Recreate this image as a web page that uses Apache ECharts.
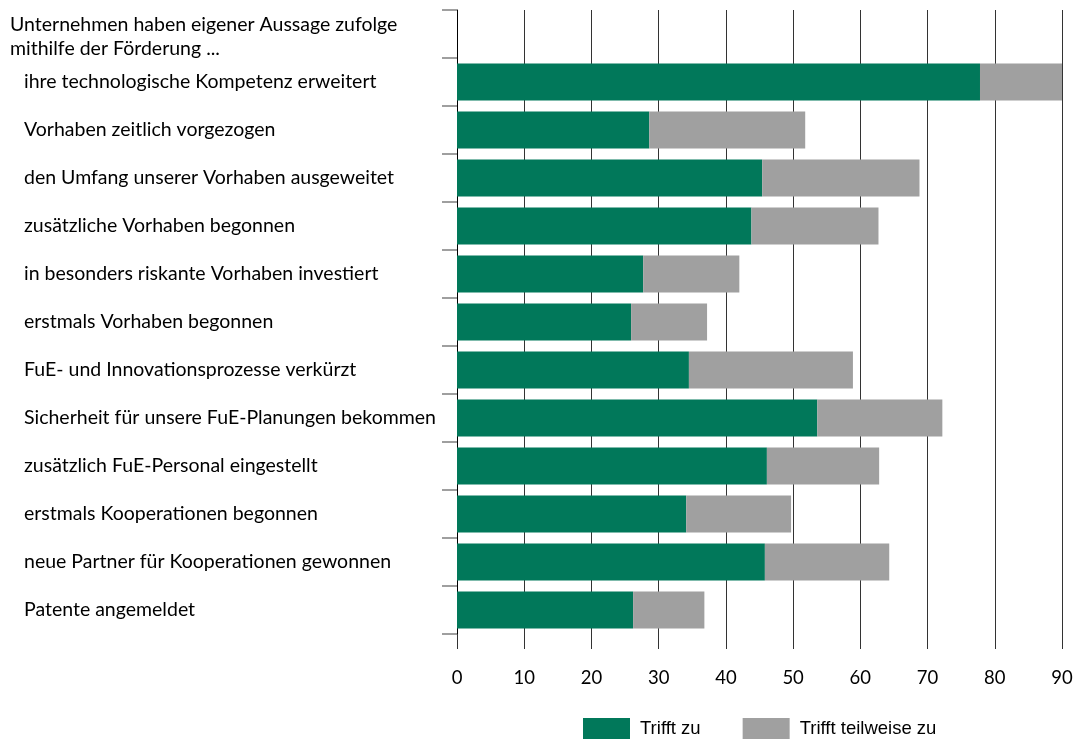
<!DOCTYPE html>
<html>
<head>
<meta charset="utf-8">
<script src="https://cdn.jsdelivr.net/npm/echarts@6/dist/echarts.min.js"></script>
<style>html,body{margin:0;padding:0;background:#fff}#c{width:1077px;height:739px}</style>
</head>
<body>
<div id="c"></div>
<script>
const headerText = 'Unternehmen haben eigener Aussage zufolge\nmithilfe der Förderung ...';
const categories = [
  '',
  'ihre technologische Kompetenz erweitert',
  'Vorhaben zeitlich vorgezogen',
  'den Umfang unserer Vorhaben ausgeweitet',
  'zusätzliche Vorhaben begonnen',
  'in besonders riskante Vorhaben investiert',
  'erstmals Vorhaben begonnen',
  'FuE- und Innovationsprozesse verkürzt',
  'Sicherheit für unsere FuE-Planungen bekommen',
  'zusätzlich FuE-Personal eingestellt',
  'erstmals Kooperationen begonnen',
  'neue Partner für Kooperationen gewonnen',
  'Patente angemeldet'
];
const triffZu =          [null, 77.8, 28.6, 45.4, 43.8, 27.7, 25.9, 34.5, 53.6, 46.1, 34.1, 45.8, 26.2];
const triffTeilweiseZu = [null, 12.2, 23.2, 23.4, 18.9, 14.3, 11.3, 24.4, 18.6, 16.7, 15.6, 18.5, 10.6];
const xTicks = { min: 0, max: 90, interval: 10 };
const seriesNames = ['Trifft zu', 'Trifft teilweise zu'];

const chart = echarts.init(document.getElementById('c'), null, { renderer: 'canvas' });
const labelFont = 'Lato';
chart.setOption({
  animation: false,
  grid: { left: 457, right: 15, top: 10, bottom: 105, containLabel: false },
  graphic: [{
    type: 'text', left: 10, top: 13,
    style: { text: headerText, font: '19.5px Lato', fill: '#000', lineHeight: 24 }
  }],
  legend: {
    left: 583, top: 718, padding: 0, itemWidth: 47, itemHeight: 22, itemGap: 42,
    icon: 'rect',
    textStyle: { fontFamily: 'Liberation Sans', fontSize: 18.5, color: '#000', padding: [0, 0, 0, 5] },
    data: seriesNames
  },
  xAxis: {
    type: 'value', min: xTicks.min, max: xTicks.max, interval: xTicks.interval,
    axisLine: { show: false },
    axisTick: { show: true, length: 15, lineStyle: { color: '#333', width: 1 } },
    splitLine: { show: true, lineStyle: { color: '#333', width: 1 } },
    axisLabel: { margin: 35, fontFamily: labelFont, fontSize: 18.5, color: '#000' }
  },
  yAxis: {
    type: 'category', inverse: true, data: categories,
    axisLine: { show: true, lineStyle: { color: '#000', width: 1 } },
    axisTick: { show: true, length: 15, lineStyle: { color: '#808080', width: 1.5 } },
    axisLabel: { align: 'left', margin: 433, padding: [5, 0, 0, 0], fontFamily: labelFont, fontSize: 19.5, color: '#000' }
  },
  series: [
    { name: seriesNames[0], type: 'bar', stack: 's', data: triffZu, barWidth: '77%',
      itemStyle: { color: '#01785A' } },
    { name: seriesNames[1], type: 'bar', stack: 's', data: triffTeilweiseZu, barWidth: '77%',
      itemStyle: { color: '#A0A0A0' } }
  ]
});
</script>
</body>
</html>
